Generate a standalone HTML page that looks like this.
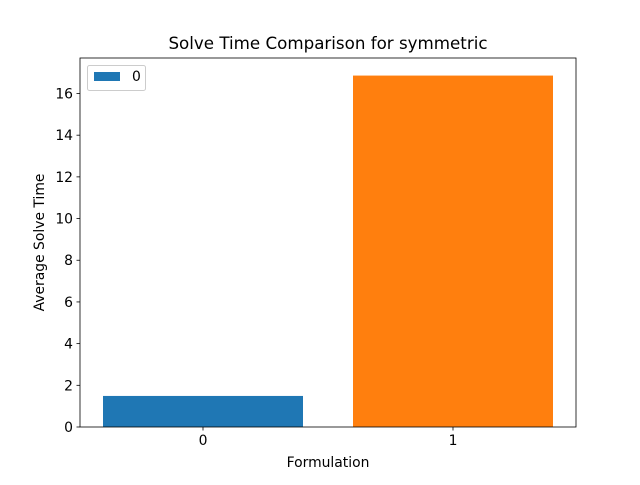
<!DOCTYPE html>
<html><head><meta charset="utf-8"><style>
body{margin:0;background:#fff;}
svg text{font-family:"DejaVu Sans","Liberation Sans",sans-serif;}
</style></head><body>
<svg width="640" height="480" xmlns="http://www.w3.org/2000/svg">
<text x="328" y="49" text-anchor="middle" font-size="16.7">Solve Time Comparison for symmetric</text>
<g id="bars"></g>
<g id="xticks"></g>
<g id="yticks"></g>
<rect x="80" y="58" width="496" height="369" fill="none" stroke="#000" stroke-width="0.8"/>
<text x="328" y="467" text-anchor="middle" font-size="13.9">Formulation</text>
<text transform="translate(44,242.5) rotate(-90)" text-anchor="middle" font-size="13.9">Average Solve Time</text>
<g>
<rect x="87.5" y="65.5" width="58" height="25" rx="2" fill="#fff" fill-opacity="0.8" stroke="#ccc"/>
<rect x="94" y="72" width="26" height="9" fill="#1f77b4"/>
<text x="132" y="81" font-size="13.9">0</text>
</g>
</svg>
<script>
const categories=["0","1"];
const values=[1.49,16.86];
const colors=["#1f77b4","#ff7f0e"];
const yTicks=[0,2,4,6,8,10,12,14,16];
const ns="http://www.w3.org/2000/svg";
const x0=80,x1=576,y0=427,y1=58;
const xmin=-0.492,xmax=1.492,ymin=0,ymax=Math.max(...values)*1.05;
const sx=v=>x0+(v-xmin)/(xmax-xmin)*(x1-x0);
const sy=v=>y0-(v-ymin)/(ymax-ymin)*(y0-y1);
const bars=document.getElementById('bars'),xt=document.getElementById('xticks'),yt=document.getElementById('yticks');
categories.forEach((c,i)=>{
 const r=document.createElementNS(ns,'rect');
 
 
 r.setAttribute('x',sx(i-0.4));r.setAttribute('width',sx(i+0.4)-sx(i-0.4));
 r.setAttribute('y',sy(values[i]));r.setAttribute('height',sy(0)-sy(values[i]));
 r.setAttribute('fill',colors[i]);bars.appendChild(r);
 const l=document.createElementNS(ns,'line');
 
 
 l.setAttribute('x1',sx(i));l.setAttribute('x2',sx(i));l.setAttribute('y1',y0);l.setAttribute('y2',y0+3.5);l.setAttribute('stroke','#000');l.setAttribute('stroke-width','0.8');xt.appendChild(l);
 const t=document.createElementNS(ns,'text');
 
 
 t.setAttribute('x',sx(i));t.setAttribute('y',y0+18);t.setAttribute('text-anchor','middle');t.setAttribute('font-size','13.9');t.textContent=c;xt.appendChild(t);
});
yTicks.forEach(v=>{
 const l=document.createElementNS(ns,'line');
 
 
 l.setAttribute('x1',x0-3.5);l.setAttribute('x2',x0);l.setAttribute('y1',sy(v));l.setAttribute('y2',sy(v));l.setAttribute('stroke','#000');l.setAttribute('stroke-width','0.8');yt.appendChild(l);
 const t=document.createElementNS(ns,'text');
 
 
 t.setAttribute('x',x0-7);t.setAttribute('y',sy(v)+5);t.setAttribute('text-anchor','end');t.setAttribute('font-size','13.9');t.textContent=v;yt.appendChild(t);
});
</script>
</body></html>
